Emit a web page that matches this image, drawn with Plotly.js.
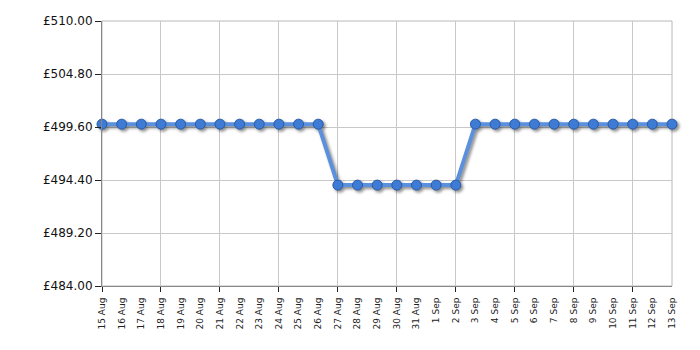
<!DOCTYPE html>
<html>
<head>
<meta charset="utf-8">
<script src="https://cdn.plot.ly/plotly-3.0.1.min.js"></script>
<style>
html,body{margin:0;padding:0;background:#fff;}
#chart{width:700px;height:350px;}
.scatterlayer .trace{filter:drop-shadow(2px 2px 1.5px rgba(0,0,0,0.45));}
</style>
</head>
<body>
<div id="chart"></div>
<script>
const dates = ["15 Aug","16 Aug","17 Aug","18 Aug","19 Aug","20 Aug","21 Aug","22 Aug","23 Aug","24 Aug","25 Aug","26 Aug","27 Aug","28 Aug","29 Aug","30 Aug","31 Aug","1 Sep","2 Sep","3 Sep","4 Sep","5 Sep","6 Sep","7 Sep","8 Sep","9 Sep","10 Sep","11 Sep","12 Sep","13 Sep"];
const prices = [499.88,499.88,499.88,499.88,499.88,499.88,499.88,499.88,499.88,499.88,499.88,499.88,493.90,493.90,493.90,493.90,493.90,493.90,493.90,499.88,499.88,499.88,499.88,499.88,499.88,499.88,499.88,499.88,499.88,499.88];
const yTicks = [484.00,489.20,494.40,499.60,504.80,510.00];
const yTickText = yTicks.map(v => '£' + v.toFixed(2));

const idx = dates.map((d,i)=>i);
const gridIdx = idx.filter(i => i % 3 === 0);

const trace = {
  x: idx, y: prices, type: 'scatter', mode: 'lines+markers',
  line: {color: '#5b90dc', width: 4},
  marker: {size: 10, color: '#3d7bd4', line: {color: '#2a5ba6', width: 1}},
  cliponaxis: false, hoverinfo: 'skip'
};

const layout = {
  width: 700, height: 350,
  margin: {l: 102, r: 28, t: 21, b: 64},
  paper_bgcolor: '#fff', plot_bgcolor: '#fff',
  showlegend: false,
  font: {family: 'DejaVu Sans, Verdana, sans-serif', color: '#111'},
  xaxis: {
    range: [0, dates.length - 1], tickmode: 'array', tickvals: gridIdx,
    showticklabels: false, showgrid: true, gridcolor: '#c8c8c8', gridwidth: 1,
    zeroline: false, showline: true, linecolor: '#888', linewidth: 1,
    ticks: 'outside', ticklen: 5, tickcolor: '#222'
  },
  xaxis2: {
    overlaying: 'x', side: 'bottom', anchor: 'y',
    range: [0, dates.length - 1], tickmode: 'array', tickvals: idx, ticktext: dates,
    tickangle: -90, showgrid: false, zeroline: false, showline: false,
    ticks: 'outside', ticklen: 7, tickcolor: 'rgba(0,0,0,0)',
    tickfont: {size: 9, color: '#222'}
  },
  yaxis: {
    range: [yTicks[0], yTicks[yTicks.length-1]], tickmode: 'array', tickvals: yTicks,
    ticktext: yTickText,
    showgrid: true, gridcolor: '#c8c8c8', gridwidth: 1, zeroline: false,
    showline: true, linecolor: '#888', linewidth: 1,
    ticks: 'outside', ticklen: 6, tickcolor: '#222',
    tickfont: {size: 12, color: '#111'}
  },
  shapes: [{type: 'rect', xref: 'paper', yref: 'paper', x0: 0, x1: 1, y0: 0, y1: 1,
    line: {color: '#b8b8b8', width: 1}, layer: 'below'}]
};

const labelTrace = {x: [idx[0]], y: [prices[0]], xaxis: 'x2', mode: 'markers', marker: {opacity: 0}, hoverinfo: 'skip'};

Plotly.newPlot('chart', [labelTrace, trace], layout, {staticPlot: true});
</script>
</body>
</html>
